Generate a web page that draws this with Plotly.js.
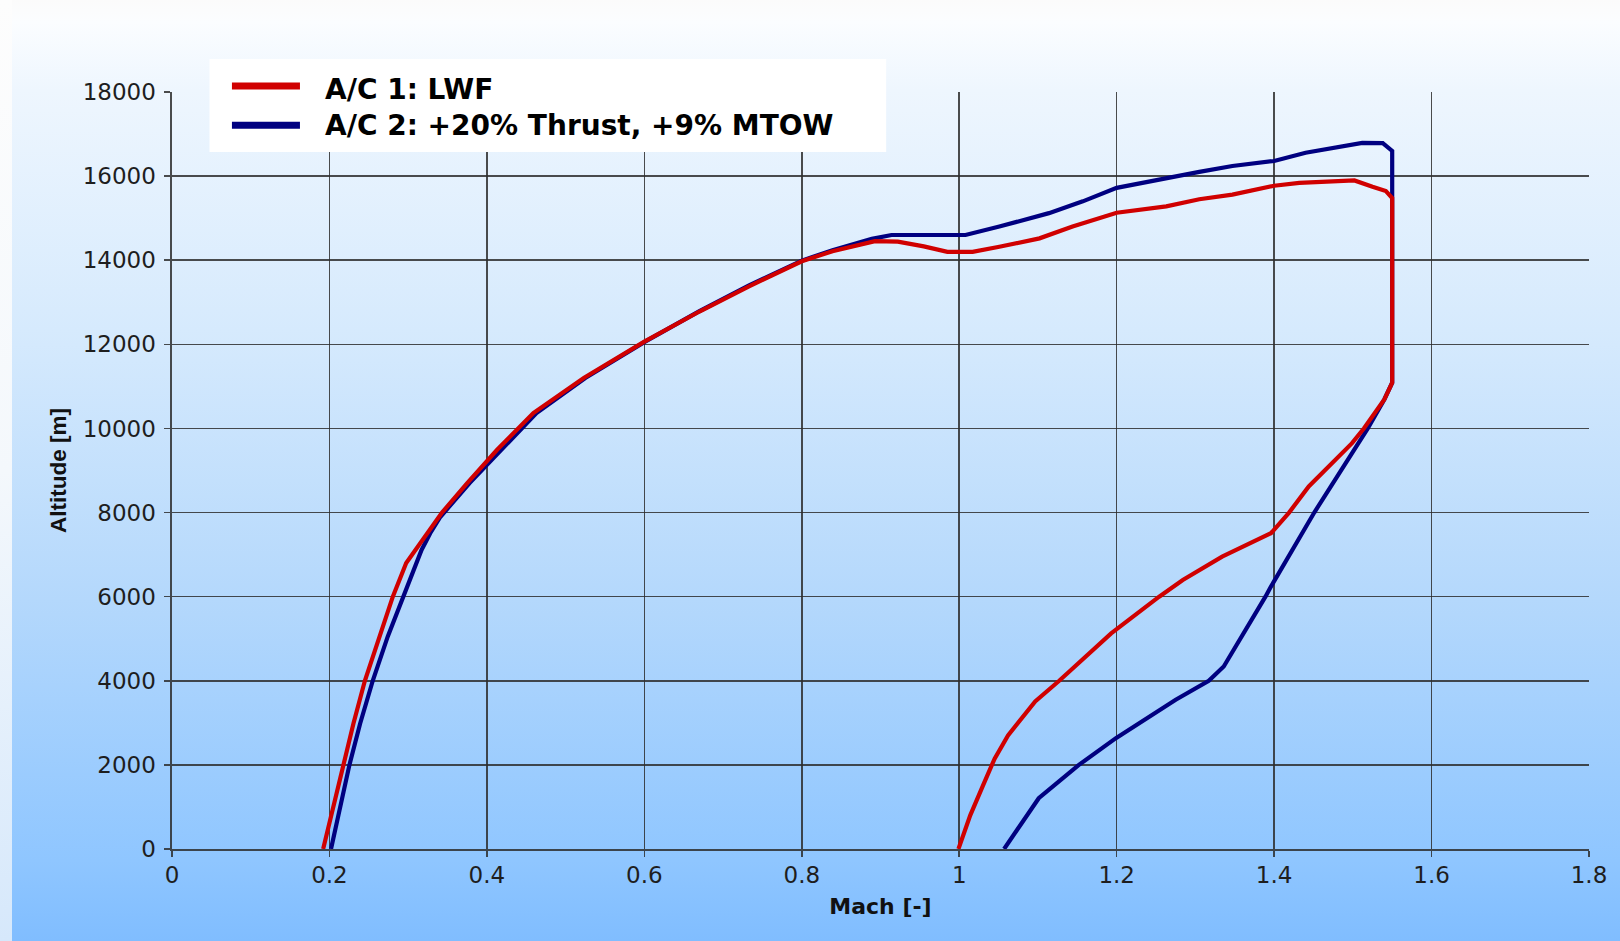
<!DOCTYPE html>
<html>
<head>
<meta charset="utf-8">
<script src="https://cdn.plot.ly/plotly-3.0.1.min.js"></script>
<style>
html,body{margin:0;padding:0;}
body{width:1620px;height:941px;overflow:hidden;position:relative;
  background:linear-gradient(to bottom,#fbfbfb 0px,#fbfdff 22px,#eef6fe 90px,#d6eafd 330px,#b4d8fc 600px,#8fc6ff 860px,#80bdff 941px);}
#strip{position:absolute;left:0;top:0;width:12px;height:941px;
  background:linear-gradient(to bottom,#fdfdfd 0%,#f4f8fc 50%,#d6e8fb 100%);}
#chart{position:absolute;left:0;top:0;width:1620px;height:941px;}
</style>
</head>
<body>
<div id="strip"></div>
<div id="chart"></div>
<script>
// A/C 1: LWF
const mach1 = [0.192,0.205,0.217,0.2305,0.245,0.264,0.2805,0.2975,0.309,0.325,0.343,0.375,0.413,0.459,0.523,0.600,0.670,0.733,0.800,0.839,0.893,0.922,0.955,0.985,1.017,1.051,1.102,1.144,1.200,1.263,1.305,1.347,1.400,1.432,1.474,1.502,1.525,1.542,1.550,1.550,1.540,1.514,1.499,1.444,1.419,1.411,1.396,1.334,1.284,1.254,1.193,1.127,1.0965,1.062,1.045,1.030,1.014,0.999];
const alt1  = [0,1000,2000,2984,4000,5048,6000,6800,7111,7550,8000,8700,9492,10365,11198,12063,12780,13380,13976,14214,14452,14440,14330,14200,14200,14320,14520,14800,15130,15280,15450,15560,15770,15840,15880,15897,15746,15643,15480,11087,10690,10000,9650,8620,8000,7826,7508,6953,6397,6000,5128,4000,3510,2700,2150,1500,800,0];
// A/C 2: +20% Thrust, +9% MTOW
const mach2 = [0.202,0.2136,0.2254,0.239,0.255,0.274,0.294,0.317,0.328,0.341,0.378,0.418,0.463,0.525,0.601,0.670,0.733,0.800,0.839,0.889,0.914,1.008,1.051,1.114,1.157,1.200,1.263,1.305,1.347,1.400,1.440,1.475,1.512,1.538,1.550,1.550,1.540,1.519,1.451,1.396,1.389,1.336,1.317,1.275,1.199,1.152,1.101,1.057];
const alt2  = [0,1000,2000,2984,4000,5048,6000,7111,7508,7900,8700,9492,10365,11198,12063,12790,13400,13990,14240,14508,14600,14600,14800,15120,15400,15720,15960,16100,16240,16360,16555,16680,16790,16784,16600,11087,10690,10000,8000,6240,6000,4339,4000,3550,2636,2000,1208,0];

const seriesNames = ['A/C 1: LWF', 'A/C 2: +20% Thrust, +9% MTOW'];
const seriesColors = ['#d00000', '#000080'];
const xTicks = [0,0.2,0.4,0.6,0.8,1,1.2,1.4,1.6,1.8];
const yTicks = [0,2000,4000,6000,8000,10000,12000,14000,16000,18000];

const traces = [
  {x: mach2, y: alt2, mode:'lines', name: seriesNames[1],
   line:{color: seriesColors[1], width:4.2}},
  {x: mach1, y: alt1, mode:'lines', name: seriesNames[0],
   line:{color: seriesColors[0], width:4.2}}
];

const gridC = 'rgba(45,45,45,0.85)';
const tickFont = {family:'DejaVu Sans, Verdana, sans-serif', size:23, color:'#1e1e1e'};
const legFont = {family:'DejaVu Sans, Verdana, sans-serif', size:28, color:'#000', weight:'bold'};

// legend geometry (paper coords)
const legRowY = [1.0030, 0.9551];
const legLineY = [1.0080, 0.9560];

const layout = {
  width:1620, height:941,
  margin:{l:172, r:31, t:92, b:92, pad:0},
  paper_bgcolor:'rgba(0,0,0,0)',
  plot_bgcolor:'rgba(0,0,0,0)',
  showlegend:false,
  xaxis:{range:[0,1.8], tickmode:'array', tickvals:xTicks, ticktext:xTicks.map(String),
    showgrid:true, gridcolor:gridC, gridwidth:1.6, zeroline:false,
    showline:true, linecolor:gridC, linewidth:1.6,
    ticks:'outside', ticklen:6, tickwidth:1.6, tickcolor:gridC,
    ticklabelstandoff:-1, tickfont:tickFont,
    title:{text:'Mach [-]', standoff:11,
      font:{family:'DejaVu Sans, Verdana, sans-serif', size:22, color:'#111', weight:'bold'}}},
  yaxis:{range:[0,18000], tickmode:'array', tickvals:yTicks, ticktext:yTicks.map(String),
    showgrid:true, gridcolor:gridC, gridwidth:1.6, zeroline:false,
    showline:true, linecolor:gridC, linewidth:1.6,
    ticks:'outside', ticklen:6, tickwidth:1.6, tickcolor:gridC,
    ticklabelstandoff:4, tickfont:tickFont,
    title:{text:'Altitude [m]', standoff:10,
      font:{family:'Liberation Sans, Arial, sans-serif', size:22.5, color:'#111', weight:'bold'}}},
  shapes:[
    {type:'rect', xref:'paper', yref:'paper', x0:0.02645, x1:0.504, y0:0.9208, y1:1.0436,
     fillcolor:'#ffffff', line:{width:0}, layer:'above'},
    {type:'line', xref:'paper', yref:'paper', x0:0.0423, x1:0.0903, y0:legLineY[0], y1:legLineY[0],
     line:{color:seriesColors[0], width:7}, layer:'above'},
    {type:'line', xref:'paper', yref:'paper', x0:0.0423, x1:0.0903, y0:legLineY[1], y1:legLineY[1],
     line:{color:seriesColors[1], width:7}, layer:'above'}
  ],
  annotations: seriesNames.map((n,i)=>({
    text:n, xref:'paper', yref:'paper', x:0.1065, y:legRowY[i], xanchor:'left', yanchor:'middle',
    showarrow:false, font:legFont
  }))
};

Plotly.newPlot('chart', traces, layout, {displayModeBar:false, staticPlot:true});
</script>
</body>
</html>
